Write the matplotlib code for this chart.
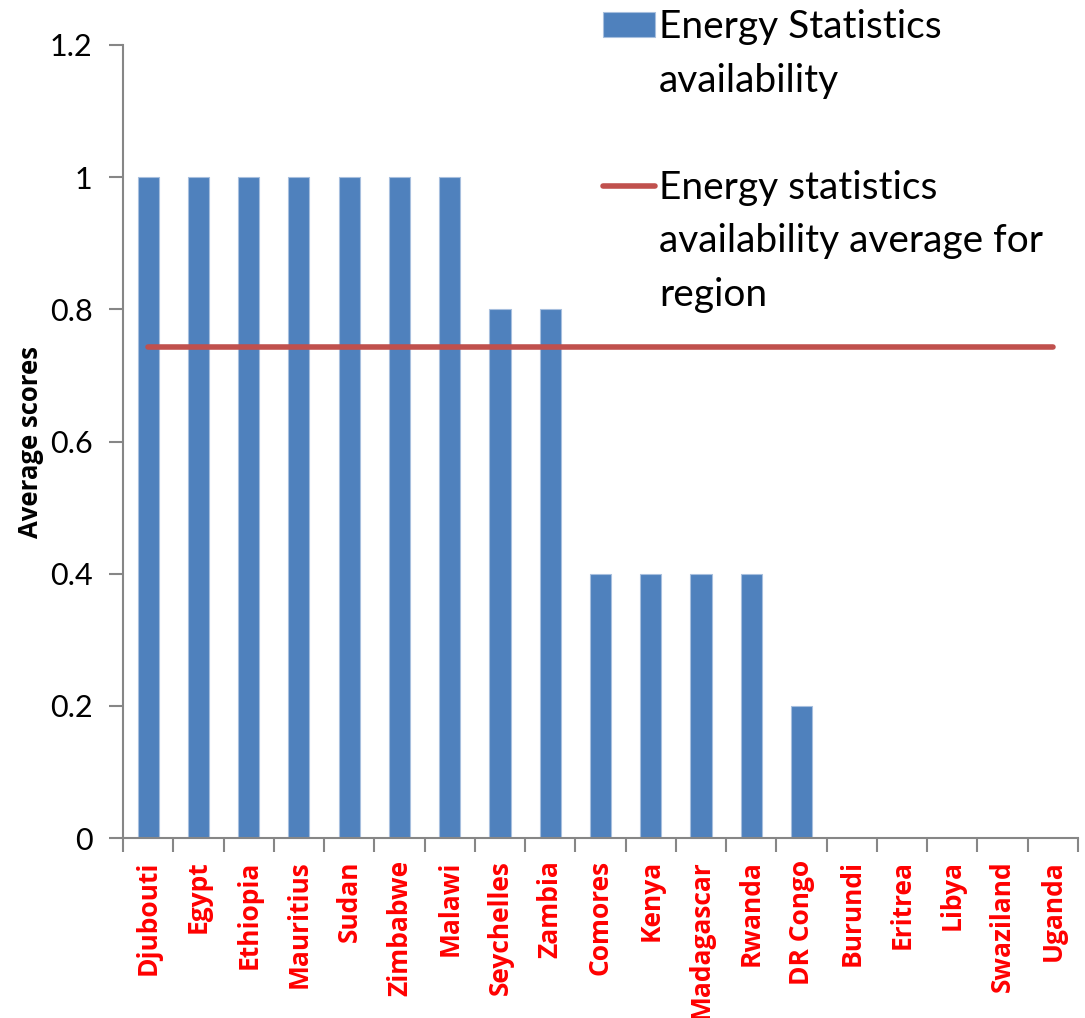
import numpy as np
from matplotlib import pyplot as plt
from matplotlib.patches import Patch

countries = ['Djubouti', 'Egypt', 'Ethiopia', 'Mauritius', 'Sudan', 'Zimbabwe', 'Malawi',
             'Seychelles', 'Zambia', 'Comores', 'Kenya', 'Madagascar', 'Rwanda', 'DR Congo',
             'Burundi', 'Eritrea', 'Libya', 'Swaziland', 'Uganda']
scores = [1, 1, 1, 1, 1, 1, 1, 0.8, 0.8, 0.4, 0.4, 0.4, 0.4, 0.2, 0, 0, 0, 0, 0]
region_average = 0.743

bar_label = ['Energy Statistics', 'availability']
line_label = ['Energy statistics', 'availability average for', 'region']

plt.rcParams['font.family'] = ['Lato', 'DejaVu Sans']
bold_font = ['Open Sans', 'DejaVu Sans']

fig = plt.figure(figsize=(10.85, 10.18), dpi=100)
ax = fig.add_axes([0.1134, 0.1768, 0.8801, 0.779])

x = np.arange(len(countries))
bars = ax.bar(x, scores, width=0.42, color='#4F81BD', edgecolor='#A7BFDE', linewidth=0.8, zorder=2)
line, = ax.plot(x, [region_average] * len(x), color='#C0504D', linewidth=4,
                solid_capstyle='round', zorder=3)

ax.set_xlim(-0.5, len(countries) - 0.5)
ax.set_ylim(0, 1.2)
ax.set_yticks(np.arange(0, 1.21, 0.2))
ax.set_yticklabels(['0', '0.2', '0.4', '0.6', '0.8', '1', '1.2'])

ax.set_xticks(x)
ax.set_xticklabels(countries, rotation=90, color='red', fontweight='bold', fontsize=19,
                   family=bold_font)
ax.set_xticks(np.arange(-0.5, len(countries), 1), minor=True)
ax.tick_params(axis='x', which='major', length=0, pad=16)
ax.tick_params(axis='x', which='minor', length=10, width=1.5, color='#868686', direction='out')
ax.tick_params(axis='y', length=10, width=1.5, color='#868686', labelsize=22, pad=12)

for side in ['top', 'right']:
    ax.spines[side].set_visible(False)
for side in ['left', 'bottom']:
    ax.spines[side].set_color('#868686')
    ax.spines[side].set_linewidth(1.5)

ax.set_ylabel('Average scores', fontsize=18.5, fontweight='bold', family=bold_font, labelpad=4)

# legend: handle sits beside the first line of each wrapped label, like the original
blank = Patch(visible=False)
handles = [bars, blank, blank, line, blank, blank]
labels = [bar_label[0], bar_label[1], ' ', line_label[0], line_label[1], line_label[2]]
fig.legend(handles=handles, labels=labels, loc='upper left', bbox_to_anchor=(0.5558, 0.991),
           frameon=False, fontsize=28, handlelength=1.34, handleheight=0.62, handletextpad=0.1,
           labelspacing=0.45, borderpad=0, borderaxespad=0)

plt.savefig('out.png', dpi=100)
